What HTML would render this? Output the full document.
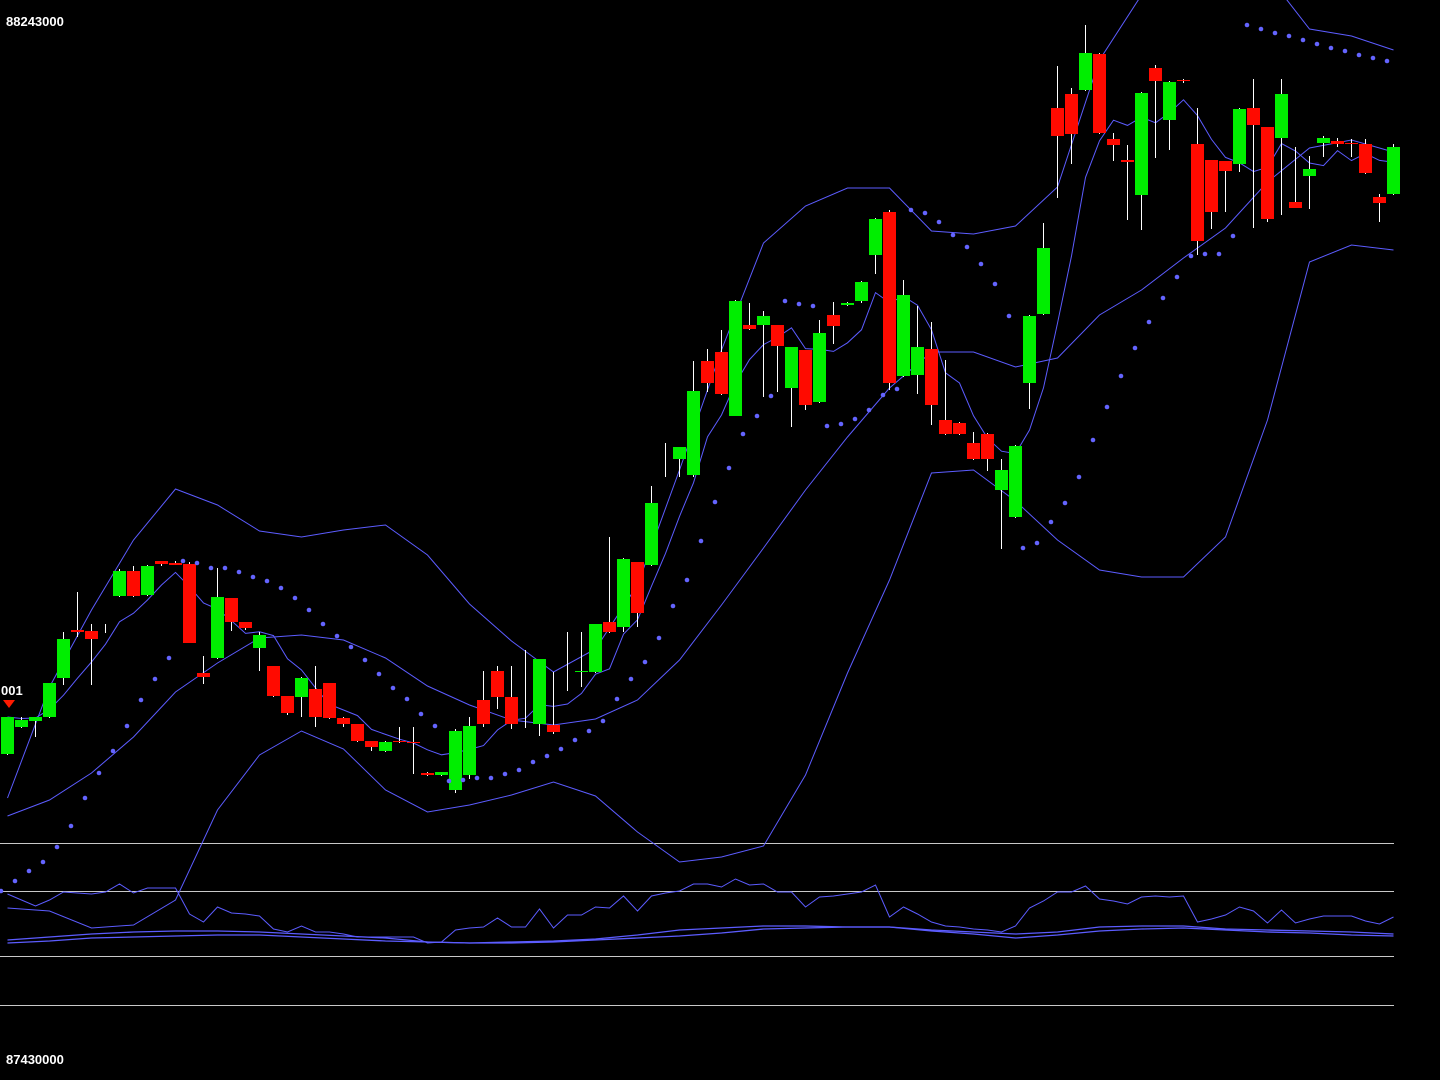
<!DOCTYPE html>
<html><head><meta charset="utf-8"><style>
html,body{margin:0;padding:0;background:#000;}
svg{display:block;}
text{font-family:"Liberation Sans",sans-serif;font-weight:bold;font-size:13px;fill:#fff;}
</style></head><body>
<svg id="chart" width="1440" height="1080" xmlns="http://www.w3.org/2000/svg">
<rect x="0" y="0" width="1440" height="1080" fill="#000"/>
<g id="grid"></g>
<g id="lower"></g>
<g id="bands"></g>
<g id="candles"></g>
<g id="sar"></g>
<text x="6" y="26">88243000</text>
<text x="6" y="1064">87430000</text>
<text x="1" y="695">001</text>
<polygon points="3,700 15,700 9,708" fill="#ff1a00"/>
</svg>
<script>
// price values (chart units)
const open=[326,353,359,363,402,450,449,452,484,509,485,519,517,516,407,422,482,458,432,414,384,383,391,397,362,356,339,329,339,338,307,305,290,305,380,409,383,360,356,355,395,408,408,458,453,518,515,620,621,605,719,728,664,755,755,755,692,730,678,765,775,779,825,868,704,705,731,660,657,637,646,590,563,697,766,972,986,990,1026,941,920,885,1012,960,1000,936,920,919,916,972,953,942,878,904,937,939,937,936,883,886];
const high=[363,363,363,397,448,488,456,456,511,514,515,519,519,518,424,512,482,458,448,414,384,403,414,397,363,356,339,339,353,353,308,308,351,363,409,414,414,430,421,408,448,448,456,543,522,518,594,637,633,719,731,750,780,777,769,755,733,730,760,778,778,799,862,870,800,774,758,720,658,648,647,621,635,765,857,1014,992,1055,1027,947,935,988,1015,999,1001,972,920,919,972,1001,953,1001,933,924,944,942,941,941,886,936];
const low=[325,352,343,362,395,443,395,447,483,483,484,514,515,437,396,421,449,450,409,383,365,363,353,361,353,338,329,328,337,306,304,304,287,301,353,371,351,352,344,346,389,393,407,447,448,453,514,603,603,603,688,685,664,750,683,688,653,670,677,736,774,777,806,690,703,686,655,645,645,620,609,531,562,671,765,882,916,989,946,919,860,850,922,930,997,825,851,868,908,852,858,865,872,871,923,933,923,906,858,885];
const close=[363,360,363,397,441,448,441,452,509,484,514,516,515,437,403,483,458,452,445,384,367,402,363,362,356,339,333,338,338,337,305,308,349,354,356,383,356,360,421,348,395,409,456,448,521,467,577,620,633,689,697,686,779,751,764,734,733,675,747,754,777,798,861,697,785,733,675,646,646,621,621,610,634,764,832,944,946,1027,947,935,918,987,999,998,999,839,868,909,971,955,861,986,872,911,942,936,936,907,877,933];
const sar=[189,199,209,218,233,254,282,307,329,354,380,401,422,519,517,512,512,508,503,499,492,482,470,456,444,433,420,406,392,381,366,354,299,300,302,302,306,310,318,324,331,340,349,359,381,401,418,442,474,500,539,578,612,646,664,684,779,776,774,654,656,661,670,685,691,870,867,858,845,833,816,796,764,532,537,558,577,603,640,673,704,732,758,782,803,824,826,826,844,1055,1051,1047,1044,1040,1036,1032,1029,1025,1022,1019];
// bands sampled every 3rd candle
const bandStep=3;
const upper=[282,393,470,540,591,575,549,543,550,555,525,476,439,408,431,495,610,730,837,874,892,892,849,846,854,893,1020,1085,1115,1120,1105,1051,1044,1030];
const middle=[264,280,307,343,388,417,442,445,440,422,394,375,360,355,361,380,420,475,532,590,643,692,728,728,713,722,765,790,822,852,898,932,940,928];
const lower=[172,169,152,155,180,270,325,349,331,290,268,275,285,298,284,248,218,223,234,305,407,500,607,610,579,540,510,503,503,543,660,818,835,830];
// indicator panel
const osc=[62,56,50,56,64,63,62,64,72,63,68,68,68,42,34,49,43,42,40,27,24,30,24,24,22,19,19,19,19,19,13,14,26,28,29,38,29,29,47,28,41,41,49,48,60,45,60,63,65,72,72,69,77,71,72,64,64,49,59,60,62,64,71,39,49,42,34,30,29,27,26,24,30,48,55,64,64,70,57,55,52,59,60,59,60,34,37,41,49,45,33,46,33,37,40,40,40,35,32,39];
const sig1=[16,19,22,24,25,25,24,22,20,18,14,13,14,15,17,21,26,28,30,30,29,29,26,24,22,24,29,30,30,27,26,25,24,22];
const sig2=[13,15,18,19,20,21,21,19,17,15,14,13,13,14,16,18,20,23,27,28,29,29,25,22,18,21,25,27,28,26,24,23,21,20];
const gridLevels=[113,65,0,-49];

const NS="http://www.w3.org/2000/svg";
const BLUE="#5c5cff";
function xC(i){return 7.5+14*i;}
function xL(i){return 1+14*i;}
function yP(v){return 1080-v;}
function yI(v){return 956-v;}
function mk(tag,attrs,parent){const e=document.createElementNS(NS,tag);for(const k in attrs)e.setAttribute(k,attrs[k]);parent.appendChild(e);return e;}
function pts(arr,xf,yf){return arr.map((v,k)=>xf(k).toFixed(1)+","+yf(v).toFixed(1)).join(" ");}

const grid=document.getElementById('grid');
gridLevels.forEach(g=>{
  const l=mk('line',{x1:0,x2:1394,y1:yI(g)+0.5,y2:yI(g)+0.5,stroke:'#c8c8c8','stroke-width':1},grid);
  
  
});

const lowerG=document.getElementById('lower');
[[sig1,'signal-line-1'],[sig2,'signal-line-2']].forEach(([a,n])=>{
  const p=mk('polyline',{points:pts(a,k=>xC(k*bandStep),yI),fill:'none',stroke:BLUE,'stroke-width':1.3},lowerG);
  
  
});
const op=mk('polyline',{points:pts(osc,xC,yI),fill:'none',stroke:BLUE,'stroke-width':1},lowerG);



const bands=document.getElementById('bands');
[[upper,'upper-band'],[middle,'middle-band'],[lower,'lower-band']].forEach(([a,n])=>{
  const p=mk('polyline',{points:pts(a,k=>xC(k*bandStep),yP),fill:'none',stroke:BLUE,'stroke-width':1},bands);
  
  
});
const fast=close.map((c,i)=>{let s=0,n=0;for(let j=Math.max(0,i-4);j<=i;j++){s+=close[j];n++;}return s/n;});
const fp=mk('polyline',{points:pts(fast,xC,yP),fill:'none',stroke:BLUE,'stroke-width':1},bands);



const cg=document.getElementById('candles');
for(let i=0;i<close.length;i++){
  const g=mk('g',{},cg);
  
  
  const w=mk('line',{x1:xC(i),x2:xC(i),y1:yP(high[i]),y2:yP(low[i]),stroke:'#fff','stroke-width':1},g);
  
  
  if(open[i]!==close[i]){
    const up=close[i]>open[i];
    const top=yP(Math.max(open[i],close[i])),bot=yP(Math.min(open[i],close[i]));
    const b=mk('rect',{x:xL(i),y:top,width:13,height:Math.max(1,bot-top),fill:up?'#00ee00':'#ff0a00'},g);
    
    
  }
}
const sg=document.getElementById('sar');
sar.forEach((v,i)=>{
  const c=mk('circle',{cx:xL(i),cy:yP(v),r:2.3,fill:'#6464ff'},sg);
  
  
});
</script>
</body></html>
